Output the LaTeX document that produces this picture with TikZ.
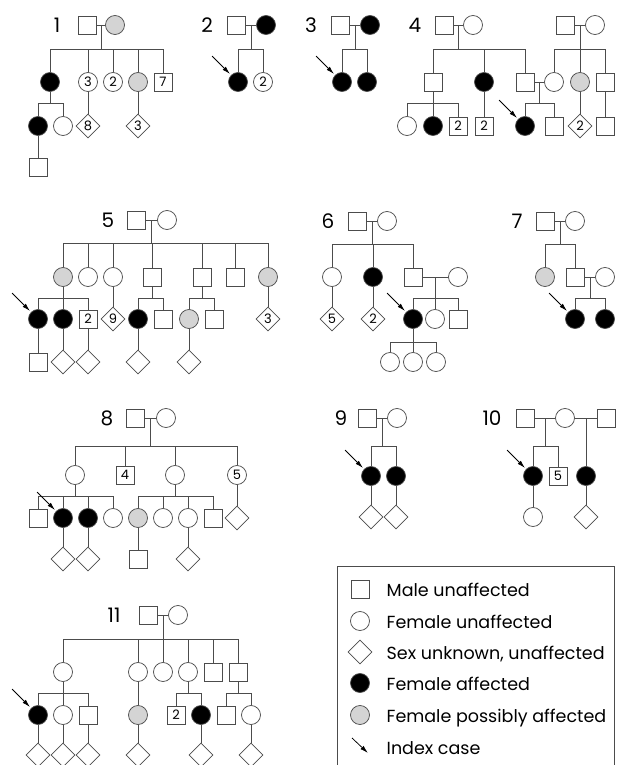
\documentclass[tikz,border=0pt]{standalone}
\usepackage{fontspec}
\setmainfont{Poppins}
\usetikzlibrary{shapes.geometric,arrows.meta,calc}

\definecolor{pedline}{gray}{0.3}
\definecolor{possible}{gray}{0.83}

\tikzset{
  male/.style={draw=pedline, rectangle, minimum size=18pt, inner sep=0pt, fill=white, text=black, font=\fontsize{13}{13}\selectfont},
  female/.style={draw=pedline, circle, minimum size=19pt, inner sep=0pt, fill=white, text=black, font=\fontsize{13}{13}\selectfont},
  unknown/.style={draw=pedline, diamond, minimum size=24pt, inner sep=0pt, fill=white, text=black, font=\fontsize{13}{13}\selectfont},
  affected/.style={fill=black},
  possibly/.style={fill=possible},
  famlabel/.style={anchor=base, text=black, font=\fontsize{20}{20}\selectfont},
  keytext/.style={anchor=base west, text=black, font=\fontsize{17.5}{17.5}\selectfont},
  index/.style={-{Latex[length=8pt,width=4.5pt]}, black, shorten >=1.5pt},
}
\newcommand{\kids}[2]{\foreach \k in {#2} {\draw (#1) -| (\k);}}
\newcommand{\proband}[1]{\draw[index] ($(#1.north west)+(-19,-19)$) -- (#1.north west);}

\begin{document}
\begin{tikzpicture}[x=1pt, y=-1pt, line width=0.75pt, pedline]
\useasboundingbox (0,0) rectangle (618,765);

% family 1
\node[famlabel] (n1) at (57,33) {1};
\node[male] (p1a) at (87,25) {};
\node[female,possibly] (p1b) at (115,25) {};
\coordinate (p1s) at (101,49);
\node[female,affected] (p1c1) at (50,82) {};
\node[female] (p1c2) at (88,82) {3};
\node[female] (p1c3) at (113,82) {2};
\node[female,possibly] (p1c4) at (138,82) {};
\node[male] (p1c5) at (163,82) {7};
\coordinate (p1t) at (50,103);
\node[female,affected] (p1d1) at (38,126) {};
\node[female] (p1d2) at (63,126) {};
\node[unknown] (p1d3) at (88,126) {8};
\node[unknown] (p1d4) at (138,126) {3};
\node[male] (p1e1) at (38,167) {};
\draw (p1a) -- (p1b) (p1s |- p1a) -- (p1s);
\kids{p1s}{p1c1,p1c2,p1c3,p1c4,p1c5}
\draw (p1c1) -- (p1t);
\kids{p1t}{p1d1,p1d2}
\draw (p1c2) -- (p1d3) (p1c4) -- (p1d4) (p1d1) -- (p1e1);

% family 2
\node[famlabel] (n2) at (207,33) {2};
\node[male] (p2a) at (236,25) {};
\node[female,affected] (p2b) at (266,25) {};
\coordinate (p2s) at (251,49);
\node[female,affected] (p2c1) at (238,82) {};
\node[female] (p2c2) at (263,82) {2};
\draw (p2a) -- (p2b) (p2s |- p2a) -- (p2s);
\kids{p2s}{p2c1,p2c2}
\proband{p2c1}

% family 3
\node[famlabel] (n3) at (311,33) {3};
\node[male] (p3a) at (340,25) {};
\node[female,affected] (p3b) at (370,25) {};
\coordinate (p3s) at (355,49);
\node[female,affected] (p3c1) at (342,82) {};
\node[female,affected] (p3c2) at (367,82) {};
\draw (p3a) -- (p3b) (p3s |- p3a) -- (p3s);
\kids{p3s}{p3c1,p3c2}
\proband{p3c1}

% family 4
\node[famlabel] (n4) at (415,33) {4};
\node[male] (p4a) at (444,25) {};
\node[female] (p4b) at (473,25) {};
\coordinate (p4s) at (458.5,49);
\node[male] (p4a2) at (565,25) {};
\node[female] (p4b2) at (595,25) {};
\coordinate (p4s2) at (580,49);
\node[male] (p4c1) at (433,82) {};
\node[female,affected] (p4c2) at (484,82) {};
\node[male] (p4c3) at (525,82) {};
\node[female] (p4c4) at (554,82) {};
\node[female,possibly] (p4c5) at (580,82) {};
\node[male] (p4c6) at (605,82) {};
\coordinate (p4t) at (433,103);
\coordinate (p4t2) at (539.5,103);
\node[female] (p4d1) at (407,126) {};
\node[female,affected] (p4d2) at (433,126) {};
\node[male] (p4d3) at (458,126) {2};
\node[male] (p4d4) at (484,126) {2};
\node[female,affected] (p4d5) at (525,126) {};
\node[male] (p4d6) at (554,126) {};
\node[unknown] (p4d7) at (580,126) {2};
\node[male] (p4d8) at (605,126) {};
\draw (p4a) -- (p4b) (p4s |- p4a) -- (p4s);
\draw (p4a2) -- (p4b2) (p4s2 |- p4a2) -- (p4s2);
\kids{p4s}{p4c1,p4c2,p4c3}
\kids{p4s2}{p4c4,p4c5,p4c6}
\draw (p4c3) -- (p4c4) (p4t2 |- p4c3) -- (p4t2);
\draw (p4c1) -- (p4t);
\kids{p4t}{p4d1,p4d2,p4d3}
\kids{p4t2}{p4d5,p4d6}
\draw (p4c2) -- (p4d4) (p4c5) -- (p4d7) (p4c6) -- (p4d8);
\proband{p4d5}

% family 5
\node[famlabel] (n5) at (108,227) {5};
\node[male] (p5a) at (136,220) {};
\node[female] (p5b) at (167,220) {};
\coordinate (p5s) at (151.5,243);
\node[female,possibly] (p5c1) at (63,277) {};
\node[female] (p5c2) at (88,277) {};
\node[female] (p5c3) at (113,277) {};
\node[male] (p5c4) at (152,277) {};
\node[male] (p5c5) at (202,277) {};
\node[male] (p5c6) at (235,277) {};
\node[female,possibly] (p5c7) at (268,277) {};
\coordinate (p5t1) at (63,298);
\coordinate (p5t2) at (152,298);
\coordinate (p5t3) at (202,298);
\node[female,affected] (p5d1) at (38,319) {};
\node[female,affected] (p5d2) at (63,319) {};
\node[male] (p5d3) at (88,319) {2};
\node[unknown] (p5d4) at (113,319) {9};
\node[female,affected] (p5d5) at (138,319) {};
\node[male] (p5d6) at (163,319) {};
\node[female,possibly] (p5d7) at (189,319) {};
\node[male] (p5d8) at (214,319) {};
\node[unknown] (p5d9) at (268,319) {3};
\node[male] (p5e1) at (38,362) {};
\node[unknown] (p5e2) at (63,362) {};
\node[unknown] (p5e3) at (88,362) {};
\node[unknown] (p5e4) at (138,362) {};
\node[unknown] (p5e5) at (189,362) {};
\draw (p5a) -- (p5b) (p5s |- p5a) -- (p5s);
\kids{p5s}{p5c1,p5c2,p5c3,p5c4,p5c5,p5c6,p5c7}
\draw (p5c1) -- (p5t1) (p5c4) -- (p5t2) (p5c5) -- (p5t3);
\kids{p5t1}{p5d1,p5d2,p5d3}
\kids{p5t2}{p5d5,p5d6}
\kids{p5t3}{p5d7,p5d8}
\draw (p5c3) -- (p5d4) (p5c7) -- (p5d9);
\draw (p5d1) -- (p5e1) (p5d2) -- (p5e2) (p5d3) -- (p5e3) (p5d5) -- (p5e4) (p5d7) -- (p5e5);
\proband{p5d1}

% family 6
\node[famlabel] (n6) at (328,228) {6};
\node[male] (p6a) at (357,221) {};
\node[female] (p6b) at (387,221) {};
\coordinate (p6s) at (372,244);
\node[female] (p6c1) at (332,277) {};
\node[female,affected] (p6c2) at (373,277) {};
\node[male] (p6c3) at (413,277) {};
\node[female] (p6c4) at (458,277) {};
\coordinate (p6t) at (435.5,298);
\node[unknown] (p6d1) at (332,319) {5};
\node[unknown] (p6d2) at (373,319) {2};
\node[female,affected] (p6d3) at (413,319) {};
\node[female] (p6d4) at (435,319) {};
\node[male] (p6d5) at (458,319) {};
\coordinate (p6u) at (413,342);
\node[female] (p6e1) at (390,362) {};
\node[female] (p6e2) at (413,362) {};
\node[female] (p6e3) at (436,362) {};
\draw (p6a) -- (p6b) (p6s |- p6a) -- (p6s);
\kids{p6s}{p6c1,p6c2,p6c3}
\draw (p6c3) -- (p6c4) (p6t |- p6c3) -- (p6t);
\kids{p6t}{p6d3,p6d4,p6d5}
\draw (p6c1) -- (p6d1) (p6c2) -- (p6d2) (p6d3) -- (p6u);
\kids{p6u}{p6e1,p6e2,p6e3}
\proband{p6d3}

% family 7
\node[famlabel] (n7) at (517,228) {7};
\node[male] (p7a) at (545,221) {};
\node[female] (p7b) at (575,221) {};
\coordinate (p7s) at (560,244);
\node[female,possibly] (p7c1) at (545,277) {};
\node[male] (p7c2) at (575,277) {};
\node[female] (p7c3) at (605,277) {};
\coordinate (p7t) at (590,298);
\node[female,affected] (p7d1) at (575,319) {};
\node[female,affected] (p7d2) at (605,319) {};
\draw (p7a) -- (p7b) (p7s |- p7a) -- (p7s);
\kids{p7s}{p7c1,p7c2}
\draw (p7c2) -- (p7c3) (p7t |- p7c2) -- (p7t);
\kids{p7t}{p7d1,p7d2}
\proband{p7d1}

% family 8
\node[famlabel] (n8) at (107,425) {8};
\node[male] (p8a) at (135,418) {};
\node[female] (p8b) at (166,418) {};
\coordinate (p8s) at (150.5,446);
\node[female] (p8c1) at (75,475) {};
\node[male] (p8c2) at (125,475) {4};
\node[female] (p8c3) at (175,475) {};
\node[female] (p8c4) at (237,475) {5};
\coordinate (p8t1) at (75,496);
\coordinate (p8t2) at (175,496);
\node[male] (p8d1) at (38,518) {};
\node[female,affected] (p8d2) at (63,518) {};
\node[female,affected] (p8d3) at (88,518) {};
\node[female] (p8d4) at (113,518) {};
\node[female,possibly] (p8d5) at (138,518) {};
\node[female] (p8d6) at (163,518) {};
\node[female] (p8d7) at (188,518) {};
\node[male] (p8d8) at (213,518) {};
\node[unknown] (p8d9) at (237,518) {};
\node[unknown] (p8e1) at (63,559) {};
\node[unknown] (p8e2) at (88,559) {};
\node[male] (p8e3) at (138,559) {};
\node[unknown] (p8e4) at (188,559) {};
\draw (p8a) -- (p8b) (p8s |- p8a) -- (p8s);
\kids{p8s}{p8c1,p8c2,p8c3,p8c4}
\draw (p8c1) -- (p8t1) (p8c3) -- (p8t2) (p8c4) -- (p8d9);
\kids{p8t1}{p8d1,p8d2,p8d3,p8d4}
\kids{p8t2}{p8d5,p8d6,p8d7,p8d8}
\draw (p8d2) -- (p8e1) (p8d3) -- (p8e2) (p8d5) -- (p8e3) (p8d7) -- (p8e4);
\proband{p8d2}

% family 9
\node[famlabel] (n9) at (341,425) {9};
\node[male] (p9a) at (367,418) {};
\node[female] (p9b) at (397,418) {};
\coordinate (p9s) at (382,446);
\node[female,affected] (p9c1) at (371,476) {};
\node[female,affected] (p9c2) at (396,476) {};
\node[unknown] (p9d1) at (371,517) {};
\node[unknown] (p9d2) at (396,517) {};
\draw (p9a) -- (p9b) (p9s |- p9a) -- (p9s);
\kids{p9s}{p9c1,p9c2}
\draw (p9c1) -- (p9d1) (p9c2) -- (p9d2);
\proband{p9c1}

% family 10
\node[famlabel] (n10) at (492,425) {10};
\node[male] (p10a) at (525,418) {};
\node[female] (p10b) at (565,418) {};
\node[male] (p10c) at (606,418) {};
\coordinate (p10s) at (545.5,446);
\node[female,affected] (p10c1) at (533,476) {};
\node[male] (p10c2) at (558,476) {5};
\node[female,affected] (p10c3) at (586,476) {};
\node[female] (p10d1) at (533,517) {};
\node[unknown] (p10d2) at (586,517) {};
\draw (p10a) -- (p10b) -- (p10c) (p10s |- p10a) -- (p10s) (p10c3 |- p10b) -- (p10c3);
\kids{p10s}{p10c1,p10c2}
\draw (p10c1) -- (p10d1) (p10c3) -- (p10d2);
\proband{p10c1}

% family 11
\node[famlabel] (n11) at (114,622) {11};
\node[male] (p11a) at (148,615) {};
\node[female] (p11b) at (178,615) {};
\coordinate (p11s) at (163,639);
\node[female] (p11c1) at (63,672) {};
\node[female] (p11c2) at (138,672) {};
\node[female] (p11c3) at (163,672) {};
\node[female] (p11c4) at (188,672) {};
\node[male] (p11c5) at (213,672) {};
\node[male] (p11c6) at (238,672) {};
\coordinate (p11t1) at (63,693);
\coordinate (p11t2) at (188,693);
\coordinate (p11t3) at (238,693);
\node[female,affected] (p11d1) at (38,715) {};
\node[female] (p11d2) at (63,715) {};
\node[male] (p11d3) at (88,715) {};
\node[female,possibly] (p11d4) at (138,715) {};
\node[male] (p11d5) at (176,715) {2};
\node[female,affected] (p11d6) at (201,715) {};
\node[male] (p11d7) at (226,715) {};
\node[female] (p11d8) at (251,715) {};
\node[unknown] (p11e1) at (38,755) {};
\node[unknown] (p11e2) at (63,755) {};
\node[unknown] (p11e3) at (88,755) {};
\node[unknown] (p11e4) at (138,755) {};
\node[unknown] (p11e5) at (201,755) {};
\node[unknown] (p11e6) at (251,755) {};
\draw (p11a) -- (p11b) (p11s |- p11a) -- (p11s);
\kids{p11s}{p11c1,p11c2,p11c3,p11c4,p11c5,p11c6}
\draw (p11c1) -- (p11t1) (p11c4) -- (p11t2) (p11c6) -- (p11t3) (p11c2) -- (p11d4);
\kids{p11t1}{p11d1,p11d2,p11d3}
\kids{p11t2}{p11d5,p11d6}
\kids{p11t3}{p11d7,p11d8}
\draw (p11d1) -- (p11e1) (p11d2) -- (p11e2) (p11d3) -- (p11e3) (p11d4) -- (p11e4) (p11d6) -- (p11e5) (p11d8) -- (p11e6);
\proband{p11d1}

% key
\draw (337,566) rectangle (614,790);
\node[male] (key1) at (360,589) {};
\node[female] (key2) at (360,621) {};
\node[unknown] (key3) at (360,652) {};
\node[female,affected] (key4) at (360,683) {};
\node[female,possibly] (key5) at (360,715) {};
\coordinate (key6) at (369,754);
\draw[index] ($(key6)+(-17,-16)$) -- (key6);
\node[keytext] (txt1) at (383,596) {Male unaffected};
\node[keytext] (txt2) at (383,628) {Female unaffected};
\node[keytext] (txt3) at (383,659) {Sex unknown, unaffected};
\node[keytext] (txt4) at (383,690) {Female affected};
\node[keytext] (txt5) at (383,722) {Female possibly affected};
\node[keytext] (txt6) at (383,754) {Index case};
\end{tikzpicture}
\end{document}
